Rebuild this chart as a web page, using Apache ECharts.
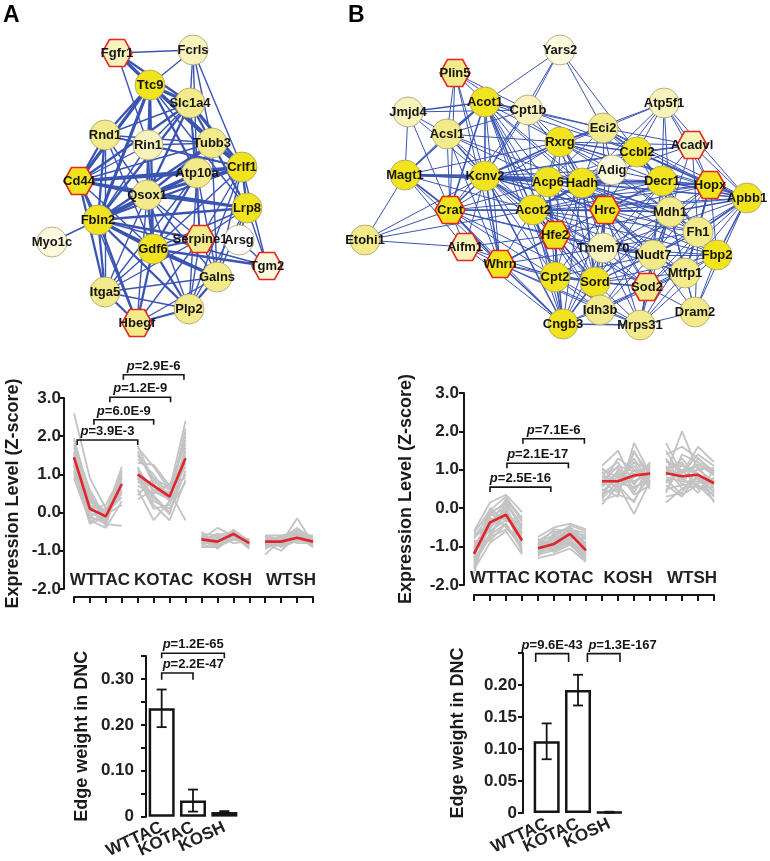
<!DOCTYPE html>
<html><head><meta charset="utf-8">
<script src="https://cdn.jsdelivr.net/npm/echarts@6/dist/echarts.min.js"></script>
<style>html,body{margin:0;padding:0;background:#fff}#c{width:770px;height:861px}</style>
</head><body><div id="c"></div>
<script>
// ================= DATA =================
const groups = ['WTTAC', 'KOTAC', 'KOSH', 'WTSH'];
const barGroups = ['WTTAC', 'KOTAC', 'KOSH'];
const zTicks = [-2, 3, 1];           // min, max, step of Z-score axis

// network A: [gene, layoutX, layoutY, expression level 0-4, isHub(hexagon)]
const layoutA = [
  ['Fgfr1',117,53,2,1],['Fcrls',193,50,2,0],['Ttc9',150,85,4,0],['Slc1a4',190,103,3,0],
  ['Rnd1',105,135,3,0],['Rin1',148,145,2,0],['Tubb3',212,143,3,0],['Crlf1',242,167,4,0],
  ['Atp10a',197,173,3,0],['Cd44',79,181,4,1],['Qsox1',147,195,3,0],['Lrp8',247,208,4,0],
  ['Fbln2',98,220,4,0],['Myo1c',52,242,1,0],['Serpine1',200,239,3,1],['Arsg',239,240,0,0],
  ['Gdf6',153,249,4,0],['Tgm2',267,266,1,1],['Galns',217,277,3,0],['Itga5',105,292,3,0],
  ['Plp2',189,309,3,0],['Hbegf',137,323,3,1]
];
const edgesA = [
  'Fgfr1: Fcrls Ttc9*3 Slc1a4*2 Tubb3 Rin1 Crlf1',
  'Fcrls: Ttc9 Slc1a4 Tubb3 Atp10a Crlf1',
  'Ttc9: Slc1a4*3 Rnd1*2 Cd44*3 Fbln2*3 Qsox1*2 Rin1 Tubb3*2 Crlf1*3 Atp10a*2 Gdf6*2 Lrp8',
  'Slc1a4: Tubb3*2 Crlf1*3 Rin1 Qsox1*2 Fbln2*2 Cd44*2 Atp10a Serpine1 Rnd1',
  'Rnd1: Rin1 Cd44*2 Fbln2*2 Gdf6 Crlf1 Qsox1 Tubb3 Itga5',
  'Rin1: Tubb3 Crlf1*2 Qsox1 Gdf6 Fbln2 Cd44',
  'Tubb3: Crlf1*3 Lrp8*2 Atp10a Qsox1*2 Fbln2*2 Galns Cd44',
  'Crlf1: Cd44*3 Atp10a*2 Lrp8*2 Tgm2 Qsox1*3 Fbln2*2 Serpine1 Plp2 Galns Gdf6',
  'Atp10a: Cd44*3 Qsox1*2 Fbln2*3 Gdf6*2 Serpine1 Itga5 Plp2 Galns',
  'Cd44: Qsox1*2 Fbln2*2 Gdf6 Itga5*2 Hbegf Lrp8*2',
  'Qsox1: Fbln2*3 Gdf6*2 Lrp8*2 Serpine1 Itga5 Plp2 Galns Hbegf',
  'Lrp8: Fbln2*2 Serpine1 Tgm2 Galns Plp2 Gdf6',
  'Fbln2: Myo1c Gdf6*3 Serpine1*2 Itga5*2 Hbegf*2 Plp2*2 Galns Tgm2',
  'Serpine1: Gdf6*2 Itga5 Hbegf Plp2 Galns',
  'Gdf6: Galns*3 Tgm2*2 Itga5 Plp2*2 Hbegf*2',
  'Galns: Itga5 Plp2*2 Hbegf',
  'Itga5: Plp2 Hbegf*2',
  'Plp2: Hbegf*2',
  'Arsg: Tgm2 Lrp8'
];

// network B
const layoutB = [
  ['Yars2',560,50,1,0],['Plin5',455,73,3,1],['Acot1',485,102,4,0],['Cpt1b',528,110,2,0],
  ['Jmjd4',408,112,2,0],['Atp5f1',664,103,2,0],['Acsl1',447,134,3,0],['Eci2',603,128,3,0],
  ['Rxrg',560,142,4,0],['Acadvl',692,145,2,1],['Ccbl2',637,152,4,0],['Adig',612,170,1,0],
  ['Magt1',405,175,4,0],['Kcnv2',485,176,4,0],['Acp6',548,182,4,0],['Hadh',582,183,4,0],
  ['Decr1',662,181,4,0],['Hopx',710,185,4,1],['Apbb1',747,198,4,0],['Crat',450,210,4,1],
  ['Acot2',533,210,4,0],['Hrc',605,210,4,1],['Mdh1',670,212,3,0],['Fh1',698,232,3,0],
  ['Hfe2',555,235,4,1],['Aifm1',465,247,2,1],['Tmem70',603,248,2,0],['Nudt7',653,255,3,0],
  ['Fbp2',717,255,4,0],['Whrn',500,264,4,1],['Mtfp1',685,273,3,0],['Cpt2',555,277,4,0],
  ['Sord',595,282,4,0],['Sod2',647,287,3,1],['Idh3b',600,310,3,0],['Dram2',695,312,3,0],
  ['Cngb3',563,324,4,0],['Mrps31',640,325,3,0],['Etohi1',365,240,3,0]
];
const edgesB = [
  'Yars2: Acot1 Cpt1b Eci2 Ccbl2 Kcnv2',
  'Plin5: Acot1 Cpt1b Acsl1 Kcnv2 Crat Rxrg Whrn',
  'Jmjd4: Acot1*2 Acsl1 Magt1 Kcnv2 Crat Cpt1b',
  'Acot1: Cpt1b Acsl1*2 Kcnv2*2 Magt1*2 Crat*2 Rxrg Acp6 Hadh Acot2*2 Hfe2 Whrn Cpt2 Eci2 Hrc Ccbl2 Cngb3 Sord',
  'Cpt1b: Rxrg Kcnv2 Acsl1 Eci2 Hadh Acot2 Ccbl2 Crat',
  'Acsl1: Magt1 Kcnv2*2 Crat Rxrg Acot2 Hadh Acp6 Whrn',
  'Atp5f1: Eci2 Ccbl2 Acadvl Hopx Decr1 Adig Apbb1 Mdh1 Hadh Rxrg',
  'Eci2: Rxrg*2 Ccbl2*2 Adig Hadh Acadvl Decr1 Hopx Kcnv2 Acp6 Hrc Apbb1',
  'Rxrg: Kcnv2*2 Acp6 Hadh*2 Acot2 Ccbl2*2 Adig Hrc Decr1 Hopx Acadvl Crat Magt1 Apbb1 Mdh1 Sord Cpt2',
  'Acadvl: Ccbl2 Decr1 Hopx Apbb1 Hadh Mdh1 Fh1 Kcnv2',
  'Ccbl2: Adig Hadh*2 Decr1*2 Hopx*2 Apbb1 Hrc Mdh1 Acp6 Kcnv2 Acot2 Fh1',
  'Adig: Hadh Decr1 Hrc Kcnv2 Acp6 Mdh1 Acot2',
  'Magt1: Kcnv2*3 Crat*2 Acp6 Aifm1 Whrn Acot2 Etohi1 Hadh',
  'Kcnv2: Acp6*3 Hadh*2 Crat*2 Acot2*2 Hrc*2 Hfe2 Whrn*2 Cpt2 Sord Cngb3*2 Decr1 Aifm1 Tmem70 Mdh1 Hopx Apbb1',
  'Acp6: Hadh*2 Acot2*2 Hrc Hfe2 Decr1 Mdh1 Cpt2 Sord Tmem70 Crat Nudt7 Cngb3',
  'Hadh: Acot2*2 Hrc*2 Decr1*2 Hopx Mdh1*2 Fh1 Tmem70 Hfe2 Cpt2 Sord*2 Nudt7 Apbb1 Fbp2 Sod2 Idh3b Cngb3',
  'Decr1: Hopx*2 Apbb1*2 Mdh1*2 Hrc*2 Fh1 Fbp2 Nudt7 Tmem70 Sod2 Mtfp1 Sord Acot2',
  'Hopx: Apbb1*2 Mdh1 Fh1*2 Fbp2 Hrc Nudt7 Mtfp1 Acot2 Sord Crat',
  'Apbb1: Mdh1*2 Fh1*2 Fbp2*2 Hrc Nudt7 Mtfp1 Sod2 Dram2 Tmem70 Acot2',
  'Crat: Acot2*2 Aifm1 Whrn*2 Hfe2 Cpt2 Etohi1 Hrc Cngb3 Sord Tmem70',
  'Acot2: Hrc*2 Hfe2*2 Whrn Cpt2*2 Sord*2 Tmem70 Mdh1 Cngb3 Nudt7 Fh1 Idh3b Sod2 Fbp2',
  'Hrc: Mdh1*2 Fh1 Hfe2 Tmem70*2 Nudt7*2 Fbp2 Cpt2 Sord*2 Sod2 Mtfp1 Idh3b Mrps31 Cngb3 Whrn',
  'Mdh1: Fh1*2 Nudt7*2 Fbp2 Mtfp1 Tmem70 Sod2 Sord Hfe2 Dram2 Idh3b Mrps31',
  'Fh1: Fbp2*2 Nudt7 Mtfp1*2 Sod2 Tmem70 Sord Dram2 Mrps31',
  'Hfe2: Tmem70 Whrn*2 Cpt2 Sord Cngb3 Idh3b Nudt7 Sod2 Aifm1',
  'Aifm1: Whrn Cpt2 Cngb3 Etohi1',
  'Tmem70: Nudt7*2 Sord Cpt2 Sod2 Idh3b Mtfp1 Mrps31 Fbp2 Cngb3',
  'Nudt7: Fbp2 Mtfp1*2 Sod2*2 Sord Idh3b Mrps31 Cpt2 Dram2',
  'Fbp2: Mtfp1 Sod2 Dram2 Mrps31 Sord',
  'Whrn: Cpt2 Cngb3*2 Sord Idh3b Mrps31 Tmem70',
  'Mtfp1: Sod2 Dram2 Mrps31 Sord Idh3b',
  'Cpt2: Sord*2 Cngb3*2 Idh3b Sod2 Mrps31',
  'Sord: Sod2*2 Idh3b Cngb3*2 Mrps31',
  'Sod2: Idh3b Mrps31*2 Dram2 Cngb3',
  'Idh3b: Cngb3 Mrps31',
  'Dram2: Mrps31',
  'Cngb3: Mrps31*2',
  'Etohi1: Kcnv2 Acot2'
];

// Z-score profiles (16 samples: 4 per group)
const meanA = [1.45,0.10,-0.10,0.75, 1.00,0.70,0.42,1.42, -0.70,-0.76,-0.56,-0.80, -0.76,-0.76,-0.66,-0.76];
const genesA = [
  [2.6,0.9,0.1,0.6, 1.7,1.2,0.6,2.4, -0.7,-0.4,-0.6,-0.8, -0.6,-0.7,-0.5,-0.7],
  [1.9,0.5,-0.2,1.1, 1.5,0.9,0.3,2.1, -0.6,-0.8,-0.5,-0.9, -0.9,-0.8,-0.15,-0.8],
  [1.8,0.2,0.0,1.2, 1.3,1.25,0.7,1.8, -0.8,-0.7,-0.6,-0.7, -0.7,-0.9,-0.7,-0.6],
  [1.6,-0.1,-0.3,0.9, 1.1,0.6,0.4,1.6, -0.5,-0.9,-0.7,-0.8, -1.1,-0.7,-0.6,-0.9],
  [1.5,0.3,-0.1,0.5, 1.0,0.4,-0.05,1.5, -0.9,-0.8,-0.45,-0.75, -0.8,-1.0,-0.6,-0.7],
  [1.4,0.0,-0.2,0.8, 0.9,0.1,0.2,1.3, -0.7,-0.6,-0.5,-0.85, -0.6,-0.6,-0.8,-0.8],
  [1.3,-0.2,-0.4,0.3, 0.8,0.7,0.5,1.2, -0.6,-0.95,-0.6,-0.9, -0.75,-0.85,-0.65,-0.7],
  [1.2,0.1,0.2,1.0, 0.6,-0.2,0.3,1.0, -0.85,-0.7,-0.55,-0.8, -0.85,-0.75,-0.55,-0.75],
  [1.1,-0.3,-0.1,0.7, 1.75,0.8,0.6,1.9, -0.75,-0.85,-0.7,-0.7, -0.65,-0.8,-0.7,-0.85],
  [1.0,0.5,-0.3,-0.35, 0.7,0.5,0.75,0.9, -0.65,-0.75,-0.6,-0.95, -0.7,-0.65,-0.45,-0.65],
  [0.9,-0.25,0.0,0.4, 1.4,1.0,0.4,2.0, -0.55,-0.6,-0.8,-0.75, -0.95,-0.7,-0.6,-0.9],
  [1.7,0.6,-0.15,0.9, 1.2,0.3,0.1,0.8, -0.7,-0.8,-0.5,-0.85, -0.6,-0.9,-0.75,-0.65],
  [1.55,0.2,-0.35,1.05, 0.45,0.9,0.65,1.4, -0.8,-0.65,-0.65,-0.7, -0.8,-0.6,-0.5,-0.8],
  [1.25,-0.1,0.1,0.6, 1.0,0.2,-0.2,0.85, -0.6,-0.7,-0.7,-0.8, -0.7,-0.8,-0.6,-0.75],
  [1.95,0.4,-0.25,0.75, 0.35,0.6,0.55,-0.2, -0.9,-0.9,-0.55,-0.9, -0.65,-0.7,-0.4,-0.7],
  [1.05,0.05,-0.05,0.2, 1.6,0.75,0.3,1.7, -0.75,-0.55,-0.65,-0.8, -0.9,-0.85,-0.65,-0.85],
  [1.45,-0.15,-0.2,0.95, 0.95,0.45,0.0,1.1, -0.65,-0.8,-0.6,-0.75, -0.75,-0.7,-0.55,-0.6],
  [0.95,0.3,0.05,0.55, 1.15,0.55,0.35,2.2, -0.7,-0.75,-0.5,-0.85, -0.85,-0.8,-0.7,-0.8]
];
const meanB = [-1.19,-0.37,-0.17,-0.84, -1.04,-0.93,-0.67,-1.10, 0.70,0.70,0.85,0.90, 0.91,0.83,0.87,0.65];
const genesB = [
  [-0.6,0.15,0.35,-0.1, -0.75,-0.5,-0.4,-0.55, 1.1,1.5,0.6,1.2, 1.7,0.9,1.6,1.2],
  [-0.8,-0.1,0.1,-0.5, -0.9,-0.7,-0.5,-0.8, 0.5,0.3,1.7,0.9, 0.15,0.5,0.6,0.2],
  [-1.0,-0.3,-0.2,-0.7, -1.0,-0.9,-0.6,-0.9, 0.8,0.7,1.2,1.0, 0.9,2.0,1.0,0.7],
  [-1.2,-0.5,-0.1,-0.9, -1.1,-1.0,-0.8,-1.2, 0.1,0.6,-0.15,0.7, 1.3,0.6,1.3,0.9],
  [-1.4,-0.7,-0.4,-1.1, -1.2,-1.1,-0.9,-1.3, 0.6,0.9,0.9,0.8, 0.6,0.3,0.9,0.4],
  [-1.6,-0.9,-0.6,-1.2, -1.3,-1.2,-1.05,-1.4, 0.4,0.5,1.0,0.6, 1.0,1.2,0.5,0.8],
  [-1.7,-0.2,0.0,-0.8, -0.95,-0.8,-0.7,-1.0, 0.9,1.2,0.4,1.1, 1.5,0.8,0.4,1.0],
  [-0.9,-0.6,-0.3,-0.6, -1.05,-0.95,-0.55,-1.1, 0.7,0.4,1.5,0.7, 0.7,1.0,1.1,0.5],
  [-1.3,-0.1,-0.5,-1.0, -0.85,-0.6,-0.75,-0.9, 0.3,1.0,0.7,0.95, 1.1,0.5,0.8,0.3],
  [-1.1,-0.8,0.2,-0.3, -1.15,-1.05,-0.85,-1.25, 1.0,0.8,1.1,0.5, 0.4,1.4,1.2,0.9],
  [-0.7,-0.4,-0.25,-0.4, -1.25,-0.85,-0.65,-0.7, 0.2,0.35,0.2,0.85, 0.8,0.7,0.7,0.6],
  [-1.5,-0.35,-0.05,-1.15, -0.8,-1.15,-0.95,-1.35, 0.65,1.1,0.95,1.05, 0.95,0.9,1.4,1.1],
  [-1.25,0.0,-0.35,-0.2, -1.0,-0.75,-0.45,-0.6, 0.85,0.65,0.55,0.75, 1.2,1.1,0.9,0.15],
  [-0.95,-0.55,0.05,-0.85, -0.9,-1.0,-0.7,-1.15, 0.45,0.75,1.3,0.65, 0.5,0.6,0.65,0.75],
  [-1.35,-0.65,-0.15,-0.65, -1.2,-0.65,-0.5,-1.0, 0.75,0.55,0.8,1.15, 0.3,0.4,1.05,1.0],
  [-1.05,-0.25,-0.45,-0.95, -1.1,-0.85,-0.8,-0.75, 0.55,0.95,0.35,0.6, 0.85,1.3,0.75,0.45],
  [-0.75,-0.45,0.25,-0.25, -0.95,-0.55,-0.6,-1.05, 0.95,0.45,1.45,0.9, 1.05,0.75,1.15,0.85],
  [-1.45,-0.75,-0.55,-0.75, -1.05,-0.95,-0.9,-1.2, 0.35,0.85,0.65,1.0, 0.65,1.0,0.55,0.55],
  [-1.15,-0.15,0.15,-0.45, -0.85,-0.9,-0.5,-0.95, 0.6,1.3,1.0,0.8, 1.4,1.6,1.3,0.95],
  [-0.85,-0.85,-0.4,-1.05, -1.15,-0.7,-0.95,-1.1, 1.05,0.6,0.15,1.1, 0.75,0.35,0.6,0.35],
  [-1.55,-0.4,-0.1,-0.55, -0.8,-1.1,-0.75,-0.8, 0.25,0.7,1.2,0.55, 1.25,0.95,1.0,1.05],
  [-0.65,-0.05,0.3,-0.35, -1.2,-0.8,-0.55,-0.65, 0.9,1.05,0.5,0.85, 0.45,1.15,0.85,0.7]
];

// p-value brackets on Z-score plots: [fromSample, toSample, yTop, yEnd, p]
const pLineA = [[0.2,4,1.90,1.77,'3.9E-3'],[1.25,5,2.43,2.30,'6.0E-9'],[2.25,6.06,3.02,2.89,'1.2E-9'],[3.1,6.9,3.61,3.48,'2.9E-6']];
const pLineB = [[1,4.8,0.55,0.42,'2.5E-16'],[2.06,5.9,1.17,1.04,'2.1E-17'],[3.06,6.9,1.81,1.68,'7.1E-6']];

// edge weight in DNC (mean, error)
const edgeWA = [0.236, 0.035, 0.010];
const edgeEA = [0.041, 0.024, 0.002];
const edgeWB = [0.112, 0.192, 0.0012];
const edgeEB = [0.028, 0.024, 0.0008];
const pBarA = [[0,1,0.313,0.298,'2.2E-47','left'],[0,2,0.356,0.345,'1.2E-65','left']];
const pBarB = [[-0.35,0.7,0.249,0.236,'9.6E-43','center'],[1.3,2.34,0.249,0.236,'1.3E-167','left']];

// ================= CHART =================
const FONT = '"Liberation Sans", Arial, Helvetica, sans-serif';
const INK = '#151515';
const shade = ['#ffffff', '#fcf9de', '#f8f2bc', '#f3ea8c', '#f1e31e'];
const HEX = 'path://M0,50 L25,2 L75,2 L100,50 L75,98 L25,98 Z';
const chart = echarts.init(document.getElementById('c'));

function graphSeries(layout, adj, widthOf) {
  const xs = layout.map(n => n[1]), ys = layout.map(n => n[2]);
  const x0 = Math.min(...xs), x1 = Math.max(...xs), y0 = Math.min(...ys), y1 = Math.max(...ys);
  const nodes = layout.map(([name, x, y, lvl, hub]) => ({
    name, x, y,
    symbol: hub ? HEX : 'circle',
    symbolSize: hub ? [30, 27] : 30,
    itemStyle: { color: shade[lvl], borderColor: hub ? '#e5261c' : '#a69e6c', borderWidth: hub ? 1.6 : 0.8 }
  }));
  const links = [];
  adj.forEach(row => {
    const [src, rest] = row.split(':');
    rest.trim().split(/\s+/).forEach(tok => {
      const [t, w] = tok.split('*');
      links.push({ source: src.trim(), target: t, lineStyle: { width: widthOf(+(w || 1)) } });
    });
  });
  return {
    type: 'graph', layout: 'none', roam: false, silent: true, animation: false,
    left: x0, top: y0, width: x1 - x0, height: y1 - y0,
    data: nodes, links,
    lineStyle: { color: '#3a55b1', opacity: 1, curveness: 0 },
    label: { show: true, position: 'inside', fontFamily: FONT, fontSize: 13, fontWeight: 'bold', color: INK },
    emphasis: { disabled: true }, z: 2
  };
}

function lineData(vals) {
  const out = [];
  vals.forEach((v, i) => { out.push([i, v]); if (i % 4 === 3 && i < vals.length - 1) out.push([i + 0.5, '-']); });
  return out;
}

function profileSeries(idx, genes, mean) {
  const s = genes.map(g => ({
    type: 'line', xAxisIndex: idx, yAxisIndex: idx, data: lineData(g), symbol: 'none', silent: true,
    lineStyle: { color: '#c3c3c3', width: 1.8 }, connectNulls: false, animation: false, z: 2
  }));
  s.push({
    type: 'line', xAxisIndex: idx, yAxisIndex: idx, data: lineData(mean), symbol: 'none', silent: true,
    lineStyle: { color: '#e0262b', width: 2.6 }, connectNulls: false, animation: false, z: 3
  });
  return s;
}

function pText(p, size) {
  return {
    text: '{i|p}{b|=' + p + '}',
    rich: {
      i: { fontFamily: FONT, fontSize: size, fontWeight: 'bold', fontStyle: 'italic', fill: INK },
      b: { fontFamily: FONT, fontSize: size, fontWeight: 'bold', fill: INK }
    },
    fontFamily: FONT, fontSize: size, fontWeight: 'bold', fill: INK
  };
}

function bracketSeries(idx, list, size) {
  return {
    type: 'custom', xAxisIndex: idx, yAxisIndex: idx, silent: true, clip: false, animation: false, z: 6,
    data: list.map(() => [0, 0]),
    renderItem: (params, api) => {
      const b = list[params.dataIndex];
      const o = api.coord([0, b[2]]), u = api.coord([1, b[2]]);
      const step = u[0] - o[0];
      const xa = o[0] + step * b[0], xb = o[0] + step * b[1];
      const yt = o[1], ye = api.coord([0, b[3]])[1];
      const align = b[5] || 'center';
      const tx = align === 'left' ? xa + 1 : (xa + xb) / 2;
      return { type: 'group', children: [
        { type: 'polyline', shape: { points: [[xa, ye], [xa, yt], [xb, yt], [xb, ye]] },
          style: { stroke: INK, lineWidth: 1.6, fill: null } },
        { type: 'text', x: tx, y: yt - 2,
          style: Object.assign(pText(b[4], size), { align: align, verticalAlign: 'bottom' }) }
      ]};
    }
  };
}

function groupLabelSeries(idx, yVal) {
  return {
    type: 'custom', xAxisIndex: idx, yAxisIndex: idx, silent: true, clip: false, animation: false, z: 6,
    data: groups.map((g, i) => [i * 4 + 1.5, yVal]),
    renderItem: (params, api) => {
      const p = api.coord([api.value(0), api.value(1)]);
      return { type: 'text', x: p[0] + 2, y: p[1],
        style: { text: groups[params.dataIndex], fontFamily: FONT, fontSize: 17, fontWeight: 'bold',
                 fill: '#222', align: 'center', verticalAlign: 'middle' } };
    }
  };
}

function errorSeries(idx, mean, err) {
  return {
    type: 'custom', xAxisIndex: idx, yAxisIndex: idx, silent: true, animation: false, z: 6,
    data: mean.map((m, i) => [i, m - err[i], m + err[i]]),
    renderItem: (params, api) => {
      const lo = api.coord([api.value(0), api.value(1)]);
      const hi = api.coord([api.value(0), api.value(2)]);
      const w = 5, st = { stroke: INK, lineWidth: 1.8 };
      return { type: 'group', children: [
        { type: 'line', shape: { x1: lo[0], y1: lo[1], x2: hi[0], y2: hi[1] }, style: st },
        { type: 'line', shape: { x1: hi[0] - w, y1: hi[1], x2: hi[0] + w, y2: hi[1] }, style: st },
        { type: 'line', shape: { x1: lo[0] - w, y1: lo[1], x2: lo[0] + w, y2: lo[1] }, style: st }
      ]};
    }
  };
}

const axisLineStyle = { color: INK, width: 2 };
const tickLabel = { fontFamily: FONT, fontSize: 17, fontWeight: 'bold', color: '#222' };
const nameStyle = { fontFamily: FONT, fontSize: 18, fontWeight: 'bold', color: '#1a1a1a' };

function zXAxis(grid, off) {
  return { type: 'value', gridIndex: grid, min: 0, max: groups.length * 4 - 1, interval: 1, offset: off,
    axisLine: { show: true, onZero: false, lineStyle: axisLineStyle }, axisTick: { show: true, length: 6, lineStyle: { width: 2, color: INK } },
    axisLabel: { show: false }, splitLine: { show: false } };
}
function zYAxis(grid, gap, margin) {
  return { type: 'value', gridIndex: grid, min: zTicks[0], max: zTicks[1], interval: zTicks[2], offset: 10,
    name: 'Expression Level (Z-score)', nameLocation: 'middle', nameGap: gap, nameTextStyle: nameStyle,
    axisLine: { show: true, onZero: false, lineStyle: axisLineStyle }, axisTick: { show: true, length: 5, lineStyle: { width: 2, color: INK } },
    axisLabel: Object.assign({ margin: margin, formatter: v => v.toFixed(1) }, tickLabel), splitLine: { show: false } };
}
function barXAxis(grid) {
  return { type: 'category', gridIndex: grid, data: barGroups,
    axisLine: { show: false, onZero: false }, axisTick: { show: false },
    axisLabel: Object.assign({ rotate: 25, margin: 10, interval: 0 }, tickLabel), splitLine: { show: false } };
}
function barYAxis(grid, max, off, gap, fmt, margin) {
  return { type: 'value', gridIndex: grid, min: 0, max: max, interval: 0.05, offset: off,
    name: 'Edge weight in DNC', nameLocation: 'middle', nameGap: gap, nameTextStyle: nameStyle,
    axisLine: { show: true, onZero: false, lineStyle: axisLineStyle }, axisTick: { show: true, length: 5, lineStyle: { width: 2, color: INK } },
    axisLabel: Object.assign({ margin: margin, formatter: fmt }, tickLabel), splitLine: { show: false } };
}
const fmtA = v => { const k = Math.round(v * 100); return k === 0 ? '0' : (k % 10 ? '' : (k / 100).toFixed(2)); };
const fmtB = v => { const k = Math.round(v * 100); return k === 0 ? '0' : (k === 25 ? '' : (k / 100).toFixed(2)); };

function barSeries(idx, vals) {
  return { type: 'bar', xAxisIndex: idx, yAxisIndex: idx, data: vals, barWidth: 26, silent: true, animation: false,
    itemStyle: { color: '#ffffff', borderColor: INK, borderWidth: 2.5 }, z: 4 };
}

const option = {
  backgroundColor: '#ffffff',
  animation: false,
  textStyle: { fontFamily: FONT },
  grid: [
    { left: 74, top: 398, width: 239, height: 191 },
    { left: 474, top: 393, width: 240, height: 192 },
    { left: 146, top: 656, width: 94, height: 161 },
    { left: 531, top: 653, width: 94, height: 160 }
  ],
  xAxis: [zXAxis(0, 8), zXAxis(1, 10), barXAxis(2), barXAxis(3)],
  yAxis: [zYAxis(0, 42, 3), zYAxis(1, 49, 5), barYAxis(2, 0.35, 0, 55, fmtA, 12), barYAxis(3, 0.25, 8, 56, fmtB, 6)],
  graphic: [
    { type: 'text', left: 3, top: 4, style: { text: 'A', fontFamily: FONT, fontSize: 23, fontWeight: 'bold', fill: '#000' } },
    { type: 'text', left: 348, top: 4, style: { text: 'B', fontFamily: FONT, fontSize: 23, fontWeight: 'bold', fill: '#000' } }
  ],
  series: [
    graphSeries(layoutA, edgesA, w => [0, 1.4, 2.3, 3.2][w]),
    graphSeries(layoutB, edgesB, w => [0, 1, 1.6, 2.4][w]),
    ...profileSeries(0, genesA, meanA),
    ...profileSeries(1, genesB, meanB),
    bracketSeries(0, pLineA, 13),
    bracketSeries(1, pLineB, 13),
    groupLabelSeries(0, -1.78),
    groupLabelSeries(1, -1.82),
    barSeries(2, edgeWA), barSeries(3, edgeWB),
    errorSeries(2, edgeWA, edgeEA), errorSeries(3, edgeWB, edgeEB),
    bracketSeries(2, pBarA, 13),
    bracketSeries(3, pBarB, 13)
  ]
};
chart.setOption(option);
</script></body></html>
